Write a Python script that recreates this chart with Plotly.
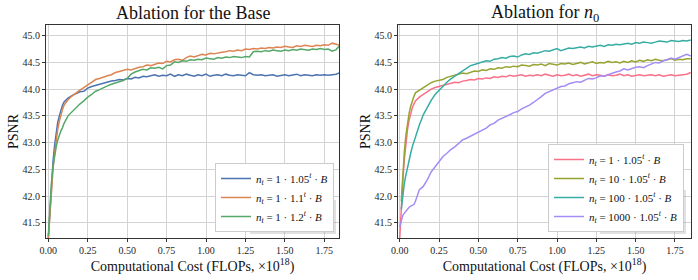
import plotly.graph_objects as go

# Computational cost (FLOPs, x1e18)
cost = [0.00, 0.01, 0.02, 0.03, 0.04, 0.05, 0.06, 0.07, 0.08, 0.09, 0.10,
        0.125, 0.15, 0.175, 0.20, 0.225, 0.25, 0.275, 0.30, 0.325, 0.35,
        0.375, 0.40, 0.425, 0.45, 0.475, 0.50, 0.525, 0.55, 0.575, 0.60,
        0.625, 0.65, 0.675, 0.70, 0.725, 0.75, 0.775, 0.80, 0.825, 0.85,
        0.875, 0.90, 0.925, 0.95, 0.975, 1.00, 1.025, 1.05, 1.075, 1.10,
        1.125, 1.15, 1.175, 1.20, 1.225, 1.25, 1.275, 1.30, 1.325, 1.35,
        1.375, 1.40, 1.425, 1.45, 1.475, 1.50, 1.525, 1.55, 1.575, 1.60,
        1.625, 1.65, 1.675, 1.70, 1.725, 1.75, 1.775, 1.80, 1.825, 1.85]

# Left panel: ablation for the base
base_105 = [41.20, 41.75, 42.25, 42.65, 42.95, 43.20, 43.38, 43.50, 43.62, 43.70, 43.76,
            43.83, 43.88, 43.92, 43.95, 43.96, 44.02, 44.05, 44.07, 44.09, 44.12,
            44.13, 44.15, 44.16, 44.18, 44.17, 44.20, 44.19, 44.22, 44.21, 44.24,
            44.23, 44.25, 44.27, 44.24, 44.26, 44.25, 44.28, 44.24, 44.27, 44.25,
            44.28, 44.26, 44.24, 44.27, 44.25, 44.28, 44.24, 44.26, 44.27, 44.25,
            44.28, 44.26, 44.25, 44.27, 44.26, 44.25, 44.31, 44.27, 44.26, 44.27,
            44.25, 44.26, 44.27, 44.24, 44.26, 44.27, 44.25, 44.26, 44.28, 44.25,
            44.27, 44.26, 44.25, 44.27, 44.26, 44.27, 44.26, 44.27, 44.28, 44.31]
base_110 = [41.20, 41.70, 42.15, 42.50, 42.80, 43.05, 43.25, 43.40, 43.52, 43.62, 43.70,
            43.80, 43.87, 43.93, 43.98, 44.03, 44.08, 44.14, 44.18, 44.20, 44.23,
            44.25, 44.27, 44.31, 44.33, 44.35, 44.37, 44.36, 44.39, 44.41, 44.42,
            44.45, 44.44, 44.47, 44.49, 44.48, 44.52, 44.51, 44.55, 44.56, 44.54,
            44.59, 44.62, 44.60, 44.63, 44.65, 44.64, 44.67, 44.66, 44.68, 44.69,
            44.70, 44.72, 44.71, 44.73, 44.72, 44.75, 44.74, 44.76, 44.75, 44.77,
            44.76, 44.78, 44.77, 44.79, 44.78, 44.80, 44.79, 44.78, 44.81, 44.80,
            44.82, 44.81, 44.80, 44.82, 44.81, 44.83, 44.82, 44.86, 44.84, 44.82]
base_120 = [41.25, 41.85, 42.25, 42.55, 42.75, 42.92, 43.05, 43.15, 43.22, 43.28, 43.36,
            43.50, 43.58, 43.64, 43.72, 43.78, 43.85, 43.90, 43.96, 43.99, 44.03,
            44.06, 44.09, 44.11, 44.14, 44.16, 44.20, 44.28, 44.32, 44.35, 44.37,
            44.36, 44.40, 44.39, 44.41, 44.38, 44.44, 44.45, 44.51, 44.50, 44.53,
            44.52, 44.55, 44.54, 44.56, 44.55, 44.58, 44.57, 44.56, 44.59, 44.58,
            44.60, 44.59, 44.61, 44.60, 44.59, 44.61, 44.60, 44.70, 44.71, 44.70,
            44.72, 44.71, 44.73, 44.72, 44.71, 44.73, 44.72, 44.74, 44.73, 44.75,
            44.74, 44.73, 44.75, 44.74, 44.76, 44.74, 44.75, 44.71, 44.74, 44.82]

# Right panel: ablation for n0
n0_1 = [41.20, 41.80, 42.30, 42.70, 43.00, 43.25, 43.42, 43.55, 43.65, 43.72, 43.78,
        43.85, 43.90, 43.95, 44.00, 44.03, 44.05, 44.08, 44.10, 44.11, 44.13,
        44.12, 44.15, 44.16, 44.18, 44.17, 44.20, 44.19, 44.21, 44.20, 44.23,
        44.22, 44.24, 44.23, 44.26, 44.24, 44.25, 44.27, 44.24, 44.26, 44.25,
        44.27, 44.25, 44.28, 44.26, 44.24, 44.27, 44.25, 44.26, 44.28, 44.25,
        44.27, 44.24, 44.26, 44.28, 44.25, 44.27, 44.26, 44.24, 44.27, 44.25,
        44.26, 44.28, 44.25, 44.27, 44.24, 44.26, 44.27, 44.25, 44.26, 44.27,
        44.25, 44.27, 44.24, 44.26, 44.27, 44.25, 44.26, 44.27, 44.28, 44.31]
n0_10 = [None, 41.90, 42.45, 42.85, 43.15, 43.38, 43.55, 43.68, 43.78, 43.86, 43.93,
         43.98, 44.03, 44.08, 44.12, 44.15, 44.16, 44.18, 44.22, 44.24, 44.26,
         44.28, 44.30, 44.29, 44.32, 44.34, 44.33, 44.36, 44.35, 44.38, 44.37,
         44.40, 44.39, 44.42, 44.41, 44.43, 44.42, 44.45, 44.44, 44.43, 44.46,
         44.45, 44.47, 44.44, 44.48, 44.46, 44.45, 44.48, 44.47, 44.49, 44.46,
         44.48, 44.50, 44.47, 44.49, 44.51, 44.48, 44.50, 44.49, 44.52, 44.50,
         44.51, 44.49, 44.52, 44.50, 44.53, 44.51, 44.54, 44.52, 44.55, 44.53,
         44.56, 44.54, 44.53, 44.55, 44.57, 44.54, 44.56, 44.55, 44.57, 44.57]
n0_100 = [None, 41.75, 42.05, 42.25, 42.40, 42.55, 42.68, 42.80, 42.92, 43.02, 43.12,
          43.33, 43.52, 43.66, 43.79, 43.90, 43.98, 44.06, 44.13, 44.19, 44.24,
          44.28, 44.33, 44.38, 44.44, 44.46, 44.48, 44.50, 44.53, 44.52, 44.56,
          44.57, 44.59, 44.58, 44.61, 44.62, 44.60, 44.64, 44.66, 44.65, 44.68,
          44.67, 44.70, 44.72, 44.71, 44.74, 44.76, 44.72, 44.75, 44.77, 44.76,
          44.78, 44.79, 44.77, 44.80, 44.79, 44.81, 44.82, 44.80, 44.83, 44.82,
          44.84, 44.83, 44.85, 44.86, 44.84, 44.87, 44.86, 44.88, 44.87, 44.86,
          44.88, 44.90, 44.89, 44.88, 44.91, 44.90, 44.89, 44.91, 44.90, 44.92]
n0_1000 = [41.42, 41.55, 41.64, 41.68, 41.72, 41.76, 41.79, 41.81, 41.82, 41.84, 41.90,
           42.12, 42.18, 42.30, 42.45, 42.55, 42.65, 42.74, 42.80, 42.87, 42.92,
           42.98, 43.05, 43.08, 43.12, 43.16, 43.20, 43.24, 43.27, 43.33, 43.36,
           43.42, 43.45, 43.48, 43.52, 43.56, 43.58, 43.63, 43.66, 43.70, 43.75,
           43.80, 43.86, 43.92, 43.95, 43.98, 44.01, 44.05, 44.06, 44.10, 44.12,
           44.14, 44.13, 44.17, 44.20, 44.19, 44.21, 44.25, 44.24, 44.27, 44.30,
           44.32, 44.34, 44.38, 44.36, 44.39, 44.41, 44.42, 44.40, 44.44, 44.47,
           44.50, 44.49, 44.53, 44.55, 44.58, 44.56, 44.59, 44.62, 44.65, 44.62]

x_ticks = [0.00, 0.25, 0.50, 0.75, 1.00, 1.25, 1.50, 1.75]
y_ticks = [41.5, 42.0, 42.5, 43.0, 43.5, 44.0, 44.5, 45.0]

left_names = ["<i>n<sub>t</sub></i> = 1 · 1.05<sup><i>t</i></sup> · <i>B</i>",
              "<i>n<sub>t</sub></i> = 1 · 1.1<sup><i>t</i></sup> · <i>B</i>",
              "<i>n<sub>t</sub></i> = 1 · 1.2<sup><i>t</i></sup> · <i>B</i>"]
right_names = ["<i>n<sub>t</sub></i> = 1 · 1.05<sup><i>t</i></sup> · <i>B</i>",
               "<i>n<sub>t</sub></i> = 10 · 1.05<sup><i>t</i></sup> · <i>B</i>",
               "<i>n<sub>t</sub></i> = 100 · 1.05<sup><i>t</i></sup> · <i>B</i>",
               "<i>n<sub>t</sub></i> = 1000 · 1.05<sup><i>t</i></sup> · <i>B</i>"]
left_colors = ["#4c72b0", "#dd8452", "#55a868"]
right_colors = ["#f77189", "#97a431", "#36ada4", "#a48cf4"]

FONT = "Liberation Serif, Times New Roman, serif"
W, H = 698, 280

fig = go.Figure()
for ys, nm, c in zip([base_105, base_110, base_120], left_names, left_colors):
    fig.add_trace(go.Scatter(x=cost, y=ys, mode="lines", name=nm,
                             line=dict(color=c, width=1.5),
                             xaxis="x", yaxis="y", legend="legend"))
for ys, nm, c in zip([n0_1, n0_10, n0_100, n0_1000], right_names, right_colors):
    fig.add_trace(go.Scatter(x=cost, y=ys, mode="lines", name=nm,
                             line=dict(color=c, width=1.5),
                             xaxis="x2", yaxis="y2", legend="legend2"))

axis_common = dict(showgrid=True, gridcolor="#d3d3d3", gridwidth=1,
                   showline=True, linecolor="#333333", linewidth=1, mirror=True,
                   ticks="outside", ticklen=3, tickcolor="#333333",
                   tickfont=dict(family=FONT, size=10, color="#262626"),
                   zeroline=False, automargin=False)

XT = "Computational Cost (FLOPs, ×10<sup>18</sup>)"


def px_rect(x0, y0, x1, y1):
    return dict(type="rect", xref="paper", yref="paper",
                x0=x0 / W, x1=x1 / W, y0=1 - y1 / H, y1=1 - y0 / H,
                fillcolor="rgba(120,120,120,0.22)", line=dict(width=0),
                layer="above")


fig.update_layout(
    width=W, height=H,
    margin=dict(l=0, r=0, t=0, b=0, autoexpand=False),
    paper_bgcolor="white", plot_bgcolor="white",
    font=dict(family=FONT, color="#111111"),
    xaxis=dict(domain=[46/W, 339/W], range=[-0.0146, 1.8433],
               tickvals=x_ticks, tickformat=".2f", anchor="y",
               title=dict(text=XT, font=dict(family=FONT, size=14), standoff=2),
               **axis_common),
    yaxis=dict(domain=[1-238/H, 1-25/H], range=[41.214, 45.2],
               tickvals=y_ticks, tickformat=".1f", anchor="x",
               title=dict(text="PSNR", font=dict(family=FONT, size=14), standoff=0),
               **axis_common),
    xaxis2=dict(domain=[398/W, 691/W], range=[-0.0108, 1.8518],
                tickvals=x_ticks, tickformat=".2f", anchor="y2",
                title=dict(text=XT, font=dict(family=FONT, size=14), standoff=2),
                **axis_common),
    yaxis2=dict(domain=[1-238/H, 1-25/H], range=[41.214, 45.2],
                tickvals=y_ticks, tickformat=".1f", anchor="x2",
                title=dict(text="PSNR", font=dict(family=FONT, size=14), standoff=0),
                **axis_common),
    legend=dict(x=334/W, y=1-232/H, xanchor="right", yanchor="bottom",
                bgcolor="white", bordercolor="#cccccc", borderwidth=1,
                font=dict(family=FONT, size=11, color="#111111"),
                tracegroupgap=0, itemwidth=30),
    legend2=dict(x=684/W, y=1-232/H, xanchor="right", yanchor="bottom",
                 bgcolor="white", bordercolor="#cccccc", borderwidth=1,
                 font=dict(family=FONT, size=11, color="#111111"),
                 tracegroupgap=0, itemwidth=30),
    shapes=[px_rect(250, 200, 336, 234), px_rect(600, 190, 686, 234)],
    annotations=[
        dict(text="Ablation for the Base", x=(46+339)/2/W, y=1-13/H,
             xref="paper", yref="paper", showarrow=False,
             xanchor="center", yanchor="middle",
             font=dict(family=FONT, size=18, color="#111111")),
        dict(text="Ablation for <i>n</i><sub>0</sub>", x=(398+691)/2/W, y=1-13/H,
             xref="paper", yref="paper", showarrow=False,
             xanchor="center", yanchor="middle",
             font=dict(family=FONT, size=18, color="#111111")),
    ],
)

fig.write_html("out.html", config={"displayModeBar": False},
               post_script="document.body.style.margin='0';document.body.style.overflow='hidden';")
